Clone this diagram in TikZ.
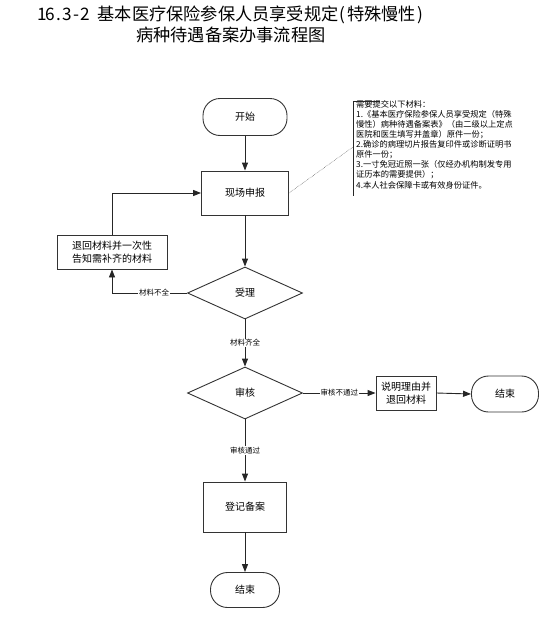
\documentclass[tikz,border=0pt]{standalone}
\usepackage{fontspec}
\newfontfamily\cjk{Noto Sans CJK SC}
\usetikzlibrary{arrows.meta,shapes.geometric}
\newcommand{\hwc}[1]{\makebox[0.5em][c]{#1}}
\begin{document}
\begin{tikzpicture}[x=1pt,y=-1pt,
  every node/.style={font=\cjk},
  line/.style={draw=black!85, line width=0.9pt},
  arr/.style={line, -{Triangle[length=8pt,width=6pt]}},
  shapebase/.style={draw=black!80, line width=0.9pt, fill=white, align=center, inner sep=1pt, font=\cjk\fontsize{10}{13}\selectfont},
  term/.style={shapebase, rounded corners=17pt},
  proc/.style={shapebase},
  decide/.style={shapebase, diamond, minimum width=115pt, minimum height=52pt},
  lbl/.style={fill=white, inner sep=1pt, font=\cjk\fontsize{7.5}{9}\selectfont},
  notefont/.style={font=\cjk\fontsize{8.25}{10.1}\selectfont}
]
\useasboundingbox (0,0) rectangle (555,621);
\fill[white] (0,0) rectangle (555,621);

\node[font=\cjk\fontsize{17.2}{21}\selectfont, align=center] (title) at (231,24)
  {\hwc{1}\hwc{6}\hwc{.}\hwc{3}\hwc{-}\hwc{2}\hwc{ }基本医疗保险参保人员享受规定\hwc{(}特殊慢性\hwc{)}\\病种待遇备案办事流程图};

\node[term, minimum width=84pt, minimum height=37pt] (start) at (245,117) {开始};
\node[proc, minimum width=87pt, minimum height=44pt] (apply) at (245,193) {现场申报};
\node[decide] (accept) at (245,293) {受理};
\node[proc, minimum width=110pt, minimum height=34pt] (back) at (112,252) {退回材料并一次性\\告知需补齐的材料};
\node[decide] (review) at (245,393) {审核};
\node[proc, minimum width=60pt, minimum height=34pt] (explain) at (406,393) {说明理由并\\退回材料};
\node[term, minimum width=67pt, minimum height=36pt] (end1) at (505,394) {结束};
\node[proc, minimum width=83pt, minimum height=50pt] (reg) at (245,507) {登记备案};
\node[term, minimum width=69pt, minimum height=35pt] (end2) at (245,590) {结束};

% note
\node[notefont, anchor=north west, align=left, inner sep=0pt] (notetext) at (356,100)
  {需要提交以下材料：\\
   1.《基本医疗保险参保人员享受规定（特殊\\
   慢性）病种待遇备案表》（由二级以上定点\\
   医院和医生填写并盖章）原件一份；\\
   2.确诊的病理切片报告复印件或诊断证明书\\
   原件一份；\\
   3.一寸免冠近照一张（仅经办机构制发专用\\
   证历本的需要提供）；\\
   4.本人社会保障卡或有效身份证件。};
\draw[black!85, line width=0.8pt] (380,101) -- (353,101) -- (353,196);
\coordinate (notept) at (353,147);

% connectors
\draw[arr] (start) -- (apply);
\draw[arr] (apply) -- (accept);
\draw[arr] (accept.west) -| node[lbl, pos=0.22] {材料不全} (back.south);
\draw[arr] (back.north) |- (apply.west);
\draw[arr] (accept.south) -- node[lbl] {材料齐全} (review.north);
\draw[arr] (review.east) -- node[lbl] {审核不通过} (explain.west);
\draw[arr] (explain.east) -- (end1.west);
\draw[arr] (review.south) -- node[lbl] {审核通过} (reg.north);
\draw[arr] (reg) -- (end2);
\draw[black!70, line width=0.5pt, densely dotted] (apply.east) -- (notept);
\end{tikzpicture}
\end{document}
